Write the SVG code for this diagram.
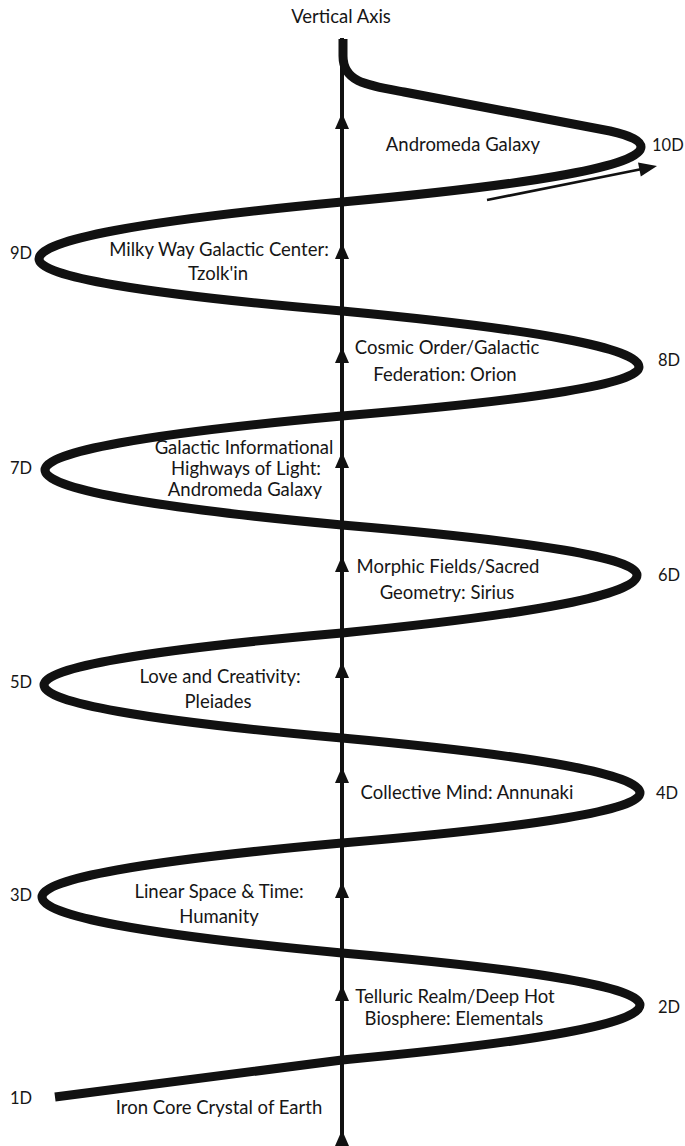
<svg xmlns="http://www.w3.org/2000/svg" xmlns:xlink="http://www.w3.org/1999/xlink" width="685" height="1146" viewBox="0 0 685 1146">
<style>
.t{font-family:Lato,"Open Sans","Liberation Sans",sans-serif;font-size:18.5px;fill:#161616;text-anchor:middle}
.d{font-family:Lato,"Open Sans","Liberation Sans",sans-serif;font-size:16.5px;fill:#161616;text-anchor:start}
.sp{fill:none;stroke:#111;stroke-width:9;stroke-linejoin:round;stroke-linecap:butt}
.ax{fill:none;stroke:#111;stroke-width:4}
.ah{fill:#111}
</style>
<defs>
<path id="ah" d="M0 0 L7 16 L-7 16 Z"/>
</defs>
<rect width="685" height="1146" fill="#fff"/>
<g id="connectors">
<g id="axis">
<line class="ax" x1="342" y1="38" x2="342" y2="1140"/>
<use href="#ah" class="ah" x="342" y="113"/>
<use href="#ah" class="ah" x="342" y="243"/>
<use href="#ah" class="ah" x="342" y="347"/>
<use href="#ah" class="ah" x="342" y="452"/>
<use href="#ah" class="ah" x="342" y="556"/>
<use href="#ah" class="ah" x="342" y="662"/>
<use href="#ah" class="ah" x="342" y="767"/>
<use href="#ah" class="ah" x="342" y="882"/>
<use href="#ah" class="ah" x="342" y="985"/>
<use href="#ah" class="ah" x="342" y="1130"/>
</g>
<g id="spiral">
<path class="sp" d="M343 39 L343 56 C343 82 366 85 404 92 L610 131 C632 136 641 141 641 147
Q641 174.5 342 202 Q39 230.5 39 259
Q39 285 342 311 Q639 339 639 367
Q639 391.5 342 416 Q45 443 45 470
Q45 497.5 342 525 Q637 550 637 575
Q637 604 342 633 Q44 659 44 685
Q44 711.5 342 738 Q640 765.5 640 793
Q640 818 342 843 Q42 870 42 897
Q42 925 342 953 Q640 979 640 1005
Q640 1032.5 342 1060 L55 1097"/>
</g>
<g id="direction-arrow">
<line x1="487" y1="200" x2="642" y2="169" stroke="#111" stroke-width="2.6"/>
<polygon class="ah" points="657,166 640.8,176.4 638,162.6"/>
</g>
</g>
<g id="title"><text class="t" x="341" y="23">Vertical Axis</text></g>
<g id="n10"><text class="t" x="463" y="151">Andromeda Galaxy</text><text class="d" x="652" y="151">10D</text></g>
<g id="n9"><text class="d" x="10" y="259">9D</text><text class="t" x="219" y="256">Milky Way Galactic Center:</text><text class="t" x="218" y="280">Tzolk'in</text></g>
<g id="n8"><text class="t" x="447" y="354">Cosmic Order/Galactic</text><text class="t" x="445" y="381">Federation: Orion</text><text class="d" x="658" y="366">8D</text></g>
<g id="n7"><text class="d" x="10" y="474">7D</text><text class="t" x="244" y="454">Galactic Informational</text><text class="t" x="246" y="475">Highways of Light:</text><text class="t" x="245" y="496">Andromeda Galaxy</text></g>
<g id="n6"><text class="t" x="448" y="573">Morphic Fields/Sacred</text><text class="t" x="447" y="599">Geometry: Sirius</text><text class="d" x="658" y="581">6D</text></g>
<g id="n5"><text class="d" x="10" y="688">5D</text><text class="t" x="220" y="683">Love and Creativity:</text><text class="t" x="218" y="708">Pleiades</text></g>
<g id="n4"><text class="t" x="467" y="799">Collective Mind: Annunaki</text><text class="d" x="656" y="799">4D</text></g>
<g id="n3"><text class="d" x="10" y="901">3D</text><text class="t" x="219" y="898">Linear Space &amp; Time:</text><text class="t" x="219" y="923">Humanity</text></g>
<g id="n2"><text class="t" x="455" y="1003">Telluric Realm/Deep Hot</text><text class="t" x="454" y="1025">Biosphere: Elementals</text><text class="d" x="658" y="1013">2D</text></g>
<g id="n1"><text class="d" x="10" y="1104">1D</text><text class="t" x="219" y="1114">Iron Core Crystal of Earth</text></g>
</svg>
